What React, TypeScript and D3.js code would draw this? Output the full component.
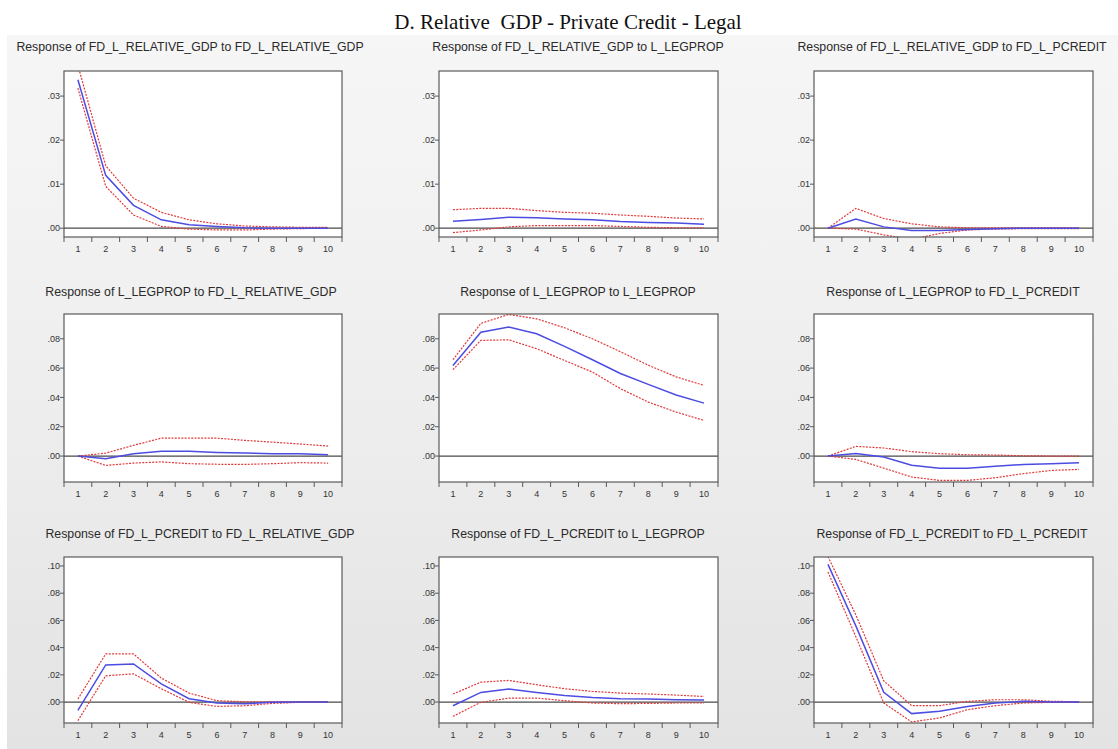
import React from 'react';
import * as d3 from 'd3';

// ---------- data ----------
const periods = [1, 2, 3, 4, 5, 6, 7, 8, 9, 10];
const variables = ['FD_L_RELATIVE_GDP', 'L_LEGPROP', 'FD_L_PCREDIT'];
const chartTitle = 'D. Relative  GDP - Private Credit - Legal';

const yTicksRow1 = [0, 0.01, 0.02, 0.03];
const yTicksRow2 = [0, 0.02, 0.04, 0.06, 0.08];
const yTicksRow3 = [0, 0.02, 0.04, 0.06, 0.08, 0.1];

// Response of FD_L_RELATIVE_GDP
const gdpToGdp = [0.0337, 0.0120, 0.0052, 0.0019, 0.0008, 0.0004, 0.0001, 0.0000, 0.0000, 0.0000];
const gdpToGdpHi = [0.0370, 0.0142, 0.0068, 0.0036, 0.0019, 0.0010, 0.0005, 0.0003, 0.0002, 0.0002];
const gdpToGdpLo = [0.0318, 0.0095, 0.0030, 0.0004, -0.0002, -0.0004, -0.0004, -0.0002, -0.0001, 0.0000];

const gdpToLeg = [0.0016, 0.0020, 0.0025, 0.0024, 0.0021, 0.0019, 0.0015, 0.0013, 0.0012, 0.0009];
const gdpToLegHi = [0.0042, 0.0045, 0.0045, 0.0040, 0.0036, 0.0034, 0.0030, 0.0027, 0.0023, 0.0021];
const gdpToLegLo = [-0.0010, -0.0004, 0.0003, 0.0006, 0.0006, 0.0006, 0.0004, 0.0002, 0.0001, 0.0001];

const gdpToCred = [0.0000, 0.0021, 0.0003, -0.0005, -0.0005, -0.0003, -0.0001, 0.0000, 0.0000, 0.0000];
const gdpToCredHi = [0.0000, 0.0045, 0.0022, 0.0010, 0.0003, 0.0001, 0.0001, 0.0001, 0.0001, 0.0001];
const gdpToCredLo = [0.0000, -0.0002, -0.0015, -0.0025, -0.0012, -0.0004, -0.0002, -0.0001, -0.0001, -0.0001];

// Response of L_LEGPROP
const legToGdp = [0.0000, -0.0018, 0.0016, 0.0032, 0.0032, 0.0025, 0.0020, 0.0016, 0.0015, 0.0009];
const legToGdpHi = [0.0000, 0.0020, 0.0073, 0.0122, 0.0123, 0.0122, 0.0107, 0.0095, 0.0082, 0.0068];
const legToGdpLo = [0.0000, -0.0064, -0.0048, -0.0040, -0.0052, -0.0056, -0.0057, -0.0052, -0.0045, -0.0048];

const legToLeg = [0.0618, 0.0845, 0.0880, 0.0834, 0.0748, 0.0657, 0.0563, 0.0489, 0.0416, 0.0361];
const legToLegHi = [0.0657, 0.0905, 0.0966, 0.0936, 0.0875, 0.0800, 0.0712, 0.0620, 0.0540, 0.0482];
const legToLegLo = [0.0589, 0.0789, 0.0793, 0.0732, 0.0652, 0.0573, 0.0460, 0.0368, 0.0300, 0.0243];

const legToCred = [0.0000, 0.0018, -0.0007, -0.0062, -0.0083, -0.0083, -0.0070, -0.0057, -0.0052, -0.0045];
const legToCredHi = [0.0000, 0.0066, 0.0055, 0.0030, 0.0016, 0.0009, 0.0007, 0.0002, 0.0000, 0.0000];
const legToCredLo = [0.0000, -0.0023, -0.0082, -0.0143, -0.0166, -0.0166, -0.0148, -0.0120, -0.0098, -0.0091];

// Response of FD_L_PCREDIT
const credToGdp = [-0.0061, 0.0273, 0.0280, 0.0134, 0.0024, -0.0007, -0.0012, -0.0002, 0.0000, 0.0000];
const credToGdpHi = [0.0022, 0.0354, 0.0354, 0.0176, 0.0066, 0.0010, 0.0002, 0.0002, 0.0002, 0.0002];
const credToGdpLo = [-0.0137, 0.0193, 0.0207, 0.0098, -0.0002, -0.0032, -0.0027, -0.0010, -0.0002, 0.0000];

const credToLeg = [-0.0027, 0.0071, 0.0095, 0.0071, 0.0049, 0.0034, 0.0024, 0.0022, 0.0017, 0.0015];
const credToLegHi = [0.0059, 0.0146, 0.0159, 0.0127, 0.0098, 0.0078, 0.0066, 0.0059, 0.0051, 0.0041];
const credToLegLo = [-0.0105, -0.0002, 0.0029, 0.0029, 0.0010, -0.0007, -0.0012, -0.0010, -0.0007, -0.0007];

const credToCred = [0.1012, 0.0560, 0.0071, -0.0085, -0.0068, -0.0032, -0.0007, 0.0005, 0.0000, 0.0000];
const credToCredHi = [0.1070, 0.0640, 0.0156, -0.0027, -0.0027, 0.0005, 0.0017, 0.0017, 0.0006, 0.0002];
const credToCredLo = [0.0956, 0.0480, -0.0007, -0.0146, -0.0117, -0.0056, -0.0027, -0.0007, -0.0002, -0.0002];

const seriesGrid = [
  [[gdpToGdp, gdpToGdpHi, gdpToGdpLo], [gdpToLeg, gdpToLegHi, gdpToLegLo], [gdpToCred, gdpToCredHi, gdpToCredLo]],
  [[legToGdp, legToGdpHi, legToGdpLo], [legToLeg, legToLegHi, legToLegLo], [legToCred, legToCredHi, legToCredLo]],
  [[credToGdp, credToGdpHi, credToGdpLo], [credToLeg, credToLegHi, credToLegLo], [credToCred, credToCredHi, credToCredLo]],
];

// ---------- layout ----------
const W = 1118;
const H = 749;
const rowLayout = [
  { titleY: 46, top: 71, bottom: 237, domain: [-0.002, 0.0357], ticks: yTicksRow1 },
  { titleY: 291, top: 314, bottom: 482, domain: [-0.0177, 0.0969], ticks: yTicksRow2 },
  { titleY: 533, top: 557, bottom: 723, domain: [-0.0154, 0.1066], ticks: yTicksRow3 },
];
const colLayout = [
  { left: 64, right: 342 },
  { left: 439, right: 718 },
  { left: 814, right: 1093 },
];
const titleCenters = [
  [190, 578, 952],
  [191, 578, 953],
  [200, 578, 952],
];

const FONT = 'Arial, "Liberation Sans", Helvetica, sans-serif';
const BLUE = '#4c4ce2';
const RED = '#e23a3a';
const fmt = (v: number) => d3.format('.2f')(v).replace(/^0/, '').replace(/^-0/, '-');

function Panel({ r, c }: { r: number; c: number }) {
  const row = rowLayout[r];
  const col = colLayout[c];
  const [mid, hi, lo] = seriesGrid[r][c];
  const x = d3.scaleBand<number>().domain(periods).range([col.left, col.right]).padding(0);
  const bw = x.bandwidth();
  const y = d3.scaleLinear().domain(row.domain).range([row.bottom, row.top]);
  const line = d3
    .line<number>()
    .x((_, i) => (x(periods[i]) as number) + bw / 2)
    .y((d) => y(d));
  const clipId = `clip-${r}-${c}`;
  const boundaries = periods.map((p) => x(p) as number).concat([col.right]);
  return (
    <g>
      <text
        x={titleCenters[r][c]}
        y={row.titleY + 4.5}
        textAnchor="middle"
        fontFamily={FONT}
        fontSize={12.3}
        fill="#2a2a2a"
      >
        {`Response of ${variables[r]} to ${variables[c]}`}
      </text>
      <defs>
        <clipPath id={clipId}>
          <rect x={col.left} y={row.top} width={col.right - col.left} height={row.bottom - row.top} />
        </clipPath>
      </defs>
      <rect
        x={col.left}
        y={row.top}
        width={col.right - col.left}
        height={row.bottom - row.top}
        fill="#ffffff"
      />
      <g clipPath={`url(#${clipId})`}>
        <line x1={col.left} x2={col.right} y1={y(0)} y2={y(0)} stroke="#4a4a4a" strokeWidth={1.3} />
        <path d={line(hi) || ''} fill="none" stroke={RED} strokeWidth={1.2} strokeDasharray="2,1.3" />
        <path d={line(lo) || ''} fill="none" stroke={RED} strokeWidth={1.2} strokeDasharray="2,1.3" />
        <path d={line(mid) || ''} fill="none" stroke={BLUE} strokeWidth={1.5} />
      </g>
      <rect
        x={col.left}
        y={row.top}
        width={col.right - col.left}
        height={row.bottom - row.top}
        fill="none"
        stroke="#5a5a5a"
        strokeWidth={1.2}
      />
      {row.ticks.map((t) => (
        <g key={t}>
          <line x1={col.left - 4} x2={col.left} y1={y(t)} y2={y(t)} stroke="#5a5a5a" strokeWidth={1} />
          <text
            x={col.left - 4}
            y={y(t) + 3.2}
            textAnchor="end"
            fontFamily={FONT}
            fontSize={9}
            fill="#333"
          >
            {fmt(t)}
          </text>
        </g>
      ))}
      {boundaries.map((bx, i) => (
        <line key={i} x1={bx} x2={bx} y1={row.bottom} y2={row.bottom + 5} stroke="#5a5a5a" strokeWidth={1} />
      ))}
      {periods.map((p) => (
        <text
          key={p}
          x={(x(p) as number) + bw / 2}
          y={row.bottom + 15}
          textAnchor="middle"
          fontFamily={FONT}
          fontSize={9}
          fill="#333"
        >
          {p}
        </text>
      ))}
    </g>
  );
}

export default function App() {
  return (
    <svg
      width={W}
      height={H}
      style={{ position: 'absolute', left: 0, top: 0, display: 'block' }}
      xmlns="http://www.w3.org/2000/svg"
    >
      <defs>
        <linearGradient id="bg" x1="0" y1="0" x2="0" y2="1">
          <stop offset="0" stopColor="#f6f6f6" />
          <stop offset="0.5" stopColor="#eeeeee" />
          <stop offset="1" stopColor="#e3e3e3" />
        </linearGradient>
      </defs>
      <rect x={0} y={0} width={W} height={H} fill="#ffffff" />
      <rect x={7} y={35} width={W - 7} height={H - 35} fill="url(#bg)" />
      <text
        x={568}
        y={29}
        textAnchor="middle"
        fontFamily='"Liberation Serif", "Times New Roman", serif'
        fontSize={21}
        fill="#111"
        style={{ whiteSpace: 'pre' }}
      >
        {chartTitle}
      </text>
      {[0, 1, 2].map((r) => [0, 1, 2].map((c) => <Panel key={`${r}-${c}`} r={r} c={c} />))}
    </svg>
  );
}
